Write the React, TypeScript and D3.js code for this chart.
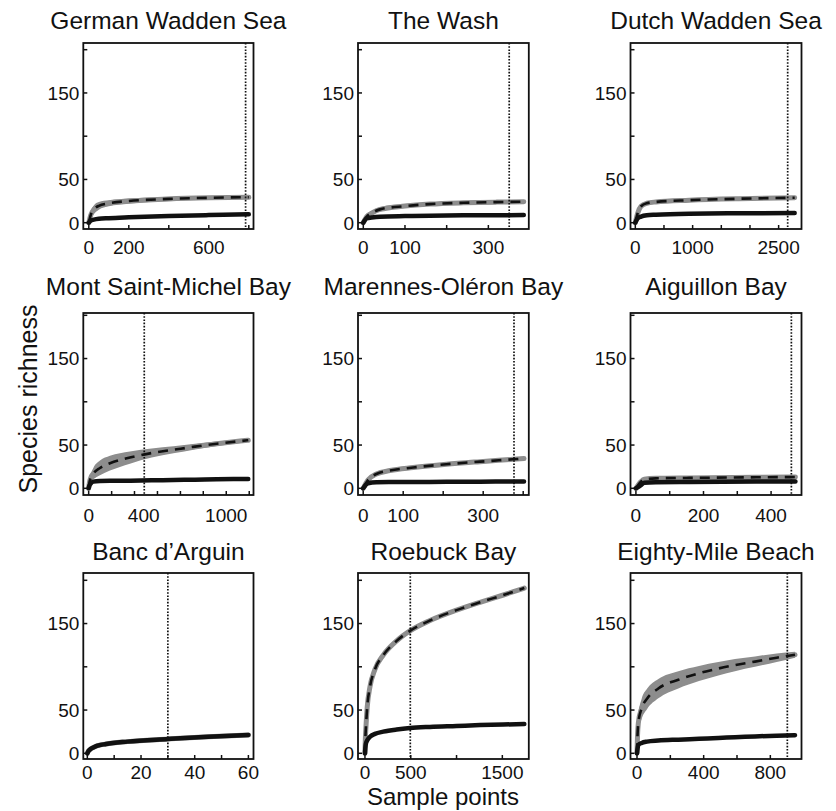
import React from 'react';
import * as d3 from 'd3';

// ---------- data ----------
const siteTitles = [
  'German Wadden Sea', 'The Wash', 'Dutch Wadden Sea',
  'Mont Saint-Michel Bay', 'Marennes-Oléron Bay', 'Aiguillon Bay',
  "Banc d’Arguin", 'Roebuck Bay', 'Eighty-Mile Beach',
];

const yTicks = [0, 50, 100, 150, 200];
const yTickLabels = [0, 50, 150];

// German Wadden Sea
const germanX = [0, 10, 25, 50, 100, 200, 400, 600, 800];
const germanEst = [0, 9, 15, 19.5, 22.5, 25, 27.5, 28.8, 29.5];
const germanLo = [0, 5, 10, 15, 19, 22, 25, 26.5, 27.5];
const germanHi = [0, 13, 20, 24, 26, 28, 30, 31, 31.5];
const germanObs = [0, 2.5, 3.5, 4.5, 5.2, 6.2, 7.8, 8.8, 9.7];
const germanDomain = [-27.5, 823.5];
const germanTicks = [0, 200, 400, 600, 800];
const germanLabels = [0, 200, 600];
const germanCutoff = 784;

// The Wash
const washX = [0, 8, 20, 40, 100, 160, 240, 320, 385];
const washEst = [0, 7, 11, 15.4, 19.2, 21.5, 23, 23.8, 24.2];
const washLo = [0, 4.5, 8.5, 13, 17, 19.5, 21, 22, 22.5];
const washHi = [0, 9.5, 13.5, 18, 21.5, 23.5, 25, 25.6, 26];
const washObs = [0, 5, 6, 7, 7.7, 8.1, 8.5, 8.7, 8.8];
const washDomain = [-12.7, 397];
const washTicks = [0, 100, 200, 300];
const washLabels = [0, 100, 300];
const washCutoff = 350;

// Dutch Wadden Sea
const dutchX = [0, 40, 100, 200, 360, 940, 1800, 2780];
const dutchEst = [0, 10.7, 19, 22.5, 24, 26, 27.7, 28.8];
const dutchLo = [0, 8, 17, 20.5, 22, 24.2, 26, 27.2];
const dutchHi = [0, 13.5, 21, 24.5, 26, 27.8, 29.4, 30.4];
const dutchObs = [0, 5, 7, 8.5, 9.2, 10.4, 10.9, 11.2];
const dutchDomain = [-84, 2899];
const dutchTicks = [0, 500, 1000, 1500, 2000, 2500];
const dutchLabels = [0, 1000, 2500];
const dutchCutoff = 2658;

// Mont Saint-Michel Bay
const montX = [0, 5, 15, 34, 82, 155, 300, 458, 616, 773, 931, 1101, 1160];
const montEst = [0, 6, 12, 17, 23.5, 29, 35.5, 40.8, 44.5, 48.2, 51.5, 54.6, 55.6];
const montLo = [0, 4, 8, 10.5, 15, 20.5, 28.5, 35.5, 40.5, 45, 49, 52.5, 53.6];
const montHi = [0, 8, 16, 23.5, 32, 37.5, 42.5, 46, 48.5, 51.4, 54, 56.7, 57.6];
const montObs = [0, 3, 5.5, 7.7, 8.5, 8.7, 8.8, 9.2, 9.6, 10, 10.4, 10.7, 10.8];
const montDomain = [-39, 1198];
const montTicks = [0, 167, 333, 500, 667, 833, 1000, 1167];
const montLabels = [0, 400, 1000];
const montCutoff = 404;

// Marennes-Oléron Bay
const marennesX = [0, 12, 33, 67, 125, 208, 292, 375, 402];
const marennesEst = [0, 9.6, 16.5, 20.5, 24, 27.8, 30.8, 33.5, 34.4];
const marennesLo = [0, 7.5, 14.5, 18.5, 22, 25.8, 29, 31.8, 32.8];
const marennesHi = [0, 11.5, 18.5, 22.5, 26, 29.8, 32.6, 35.2, 36];
const marennesObs = [0, 5.8, 7, 7.2, 7.3, 7.5, 7.7, 7.9, 8];
const marennesDomain = [-13, 414];
const marennesTicks = [0, 100, 200, 300, 400];
const marennesLabels = [0, 100, 300];
const marennesCutoff = 377;

// Aiguillon Bay
const aiguillonX = [0, 15, 25, 59, 158, 356, 472];
const aiguillonEst = [0, 7.7, 10.4, 11.5, 12, 12.7, 13];
const aiguillonLo = [0, 5, 7.5, 8.5, 9, 9.5, 9.8];
const aiguillonHi = [0, 10, 12.5, 13.5, 14, 14.8, 15.2];
const aiguillonObs = [0, 3.8, 6.5, 7, 7.3, 7.8, 8];
const aiguillonDomain = [-16, 490];
const aiguillonTicks = [0, 100, 200, 300, 400];
const aiguillonLabels = [0, 200, 400];
const aiguillonCutoff = 460;

// Banc d'Arguin
const bancX = [0, 0.5, 3.5, 7, 15, 30, 45, 60];
const bancEst = [0, 3, 8.5, 10.8, 13.5, 16.5, 19.2, 21.2];
const bancLo = [0, 1, 6, 8.5, 11.5, 15, 18, 20.2];
const bancHi = [0, 5, 11, 13, 15.5, 18, 20.4, 22.2];
const bancObs = [0, 3, 8.5, 10.8, 13.5, 16.5, 19.2, 21.2];
const bancDomain = [-1.5, 61.9];
const bancTicks = [0, 10, 20, 30, 40, 50, 60];
const bancLabels = [0, 20, 40, 60];
const bancCutoff = 30;

// Roebuck Bay
const roebuckX = [0, 4, 11, 25, 55, 109, 200, 346, 491, 710, 1000, 1256, 1511, 1740];
const roebuckEst = [0, 16, 30.8, 53.8, 77, 97, 113.5, 130, 141.5, 153.5, 165.5, 174.5, 183, 191];
const roebuckLo = [0, 13.5, 28, 51, 74.5, 94.5, 111, 127.7, 139.3, 151.5, 163.5, 172.5, 181, 189];
const roebuckHi = [0, 18.5, 33.5, 56.5, 79.5, 99.5, 116, 132.3, 143.7, 155.5, 167.5, 176.5, 185, 193];
const roebuckObs = [0, 6, 11.5, 15, 19.2, 22.5, 25, 27.5, 29.2, 30.5, 31.6, 32.6, 33.3, 33.8];
const roebuckDomain = [-76, 1789];
const roebuckTicks = [0, 500, 1000, 1500];
const roebuckLabels = [0, 500, 1500];
const roebuckCutoff = 495;

// Eighty-Mile Beach
const eightyX = [0, 3, 8, 28, 60, 128, 248, 372, 488, 588, 708, 838, 948];
const eightyEst = [0, 20, 35, 52, 63, 75, 85, 92.5, 98, 102, 106, 110.5, 114];
const eightyLo = [0, 14, 25, 40, 51, 63.5, 75, 83.5, 90, 95, 100, 105.5, 110.5];
const eightyHi = [0, 26, 45, 63, 74.5, 86, 95, 101, 105.5, 109, 112, 115.5, 117.5];
const eightyObs = [0, 5, 9.7, 12, 13.5, 14.7, 15.8, 16.8, 17.8, 18.5, 19.5, 20.4, 21];
const eightyDomain = [-39, 987];
const eightyTicks = [0, 200, 400, 600, 800];
const eightyLabels = [0, 400, 800];
const eightyCutoff = 902;

type Panel = {
  title: string; x: number[]; est: number[]; lo: number[]; hi: number[]; obs: number[];
  domain: number[]; ticks: number[]; labels: number[]; cutoff: number;
};

const panels: Panel[] = [
  { title: siteTitles[0], x: germanX, est: germanEst, lo: germanLo, hi: germanHi, obs: germanObs, domain: germanDomain, ticks: germanTicks, labels: germanLabels, cutoff: germanCutoff },
  { title: siteTitles[1], x: washX, est: washEst, lo: washLo, hi: washHi, obs: washObs, domain: washDomain, ticks: washTicks, labels: washLabels, cutoff: washCutoff },
  { title: siteTitles[2], x: dutchX, est: dutchEst, lo: dutchLo, hi: dutchHi, obs: dutchObs, domain: dutchDomain, ticks: dutchTicks, labels: dutchLabels, cutoff: dutchCutoff },
  { title: siteTitles[3], x: montX, est: montEst, lo: montLo, hi: montHi, obs: montObs, domain: montDomain, ticks: montTicks, labels: montLabels, cutoff: montCutoff },
  { title: siteTitles[4], x: marennesX, est: marennesEst, lo: marennesLo, hi: marennesHi, obs: marennesObs, domain: marennesDomain, ticks: marennesTicks, labels: marennesLabels, cutoff: marennesCutoff },
  { title: siteTitles[5], x: aiguillonX, est: aiguillonEst, lo: aiguillonLo, hi: aiguillonHi, obs: aiguillonObs, domain: aiguillonDomain, ticks: aiguillonTicks, labels: aiguillonLabels, cutoff: aiguillonCutoff },
  { title: siteTitles[6], x: bancX, est: bancEst, lo: bancLo, hi: bancHi, obs: bancObs, domain: bancDomain, ticks: bancTicks, labels: bancLabels, cutoff: bancCutoff },
  { title: siteTitles[7], x: roebuckX, est: roebuckEst, lo: roebuckLo, hi: roebuckHi, obs: roebuckObs, domain: roebuckDomain, ticks: roebuckTicks, labels: roebuckLabels, cutoff: roebuckCutoff },
  { title: siteTitles[8], x: eightyX, est: eightyEst, lo: eightyLo, hi: eightyHi, obs: eightyObs, domain: eightyDomain, ticks: eightyTicks, labels: eightyLabels, cutoff: eightyCutoff },
];

// ---------- layout ----------
const W = 836;
const H = 811;
const COL_LEFT = [83.3, 358, 630.5];
const COL_RIGHT = [253.5, 528.8, 801.5];
const ROW_TOP = [43, 313, 573];
const ROW_BOTTOM = [229, 495, 759];
const ROW_ZERO = [222.7, 488.3, 753.3];
const TITLE_BASE = [28.5, 295, 559.5];
const XLABEL_BASE = [254, 521.5, 779];
const PX_PER_UNIT = 0.865;
const FONT = '"Liberation Sans", Arial, Helvetica, sans-serif';
const GRAY = '#8d8d8d';
const INK = '#111';

function PanelView({ p, i }: { p: Panel; i: number }) {
  const col = i % 3;
  const row = Math.floor(i / 3);
  const left = COL_LEFT[col];
  const right = COL_RIGHT[col];
  const top = ROW_TOP[row];
  const bottom = ROW_BOTTOM[row];
  const zero = ROW_ZERO[row];
  const xs = d3.scaleLinear().domain(p.domain).range([left, right]);
  const ys = d3.scaleLinear().domain([0, 150]).range([zero, zero - 150 * PX_PER_UNIT]);
  const idx = p.x.map((_, k) => k);
  const area = d3.area<number>()
    .x((k) => xs(p.x[k]))
    .y0((k) => ys(p.lo[k]))
    .y1((k) => ys(p.hi[k]))
    .curve(d3.curveMonotoneX);
  const estLine = d3.line<number>().x((k) => xs(p.x[k])).y((k) => ys(p.est[k])).curve(d3.curveMonotoneX);
  const obsLine = d3.line<number>().x((k) => xs(p.x[k])).y((k) => ys(p.obs[k])).curve(d3.curveMonotoneX);
  const cx = (left + right) / 2;
  return (
    <g>
      <text x={cx} y={TITLE_BASE[row]} textAnchor="middle" fontSize={24.5} fontFamily={FONT} fill={INK}>{p.title}</text>
      <path d={area(idx) || ''} fill={GRAY} stroke="none" />
      <path d={estLine(idx) || ''} fill="none" stroke={GRAY} strokeWidth={5} strokeLinecap="round" />
      <path d={estLine(idx) || ''} fill="none" stroke={INK} strokeWidth={2.6} strokeDasharray="10,7" />
      <path d={obsLine(idx) || ''} fill="none" stroke={INK} strokeWidth={4.5} strokeLinecap="round" strokeLinejoin="round" />
      <line x1={xs(p.cutoff)} x2={xs(p.cutoff)} y1={top} y2={bottom} stroke={INK} strokeWidth={1.7} strokeDasharray="1.6,1.6" />
      <rect x={left} y={top} width={right - left} height={bottom - top} fill="none" stroke={INK} strokeWidth={1.8} />
      {yTicks.map((t) => (
        <line key={'yt' + t} x1={left} x2={left + 4} y1={ys(t)} y2={ys(t)} stroke={INK} strokeWidth={1.5} />
      ))}
      {yTickLabels.map((t) => (
        <text key={'yl' + t} x={left - 4} y={ys(t)} dy="0.36em" textAnchor="end" fontSize={19} fontFamily={FONT} fill={INK}>{t}</text>
      ))}
      {p.ticks.map((t) => (
        <line key={'xt' + t} x1={xs(t)} x2={xs(t)} y1={bottom} y2={bottom - 4} stroke={INK} strokeWidth={1.5} />
      ))}
      {p.labels.map((t) => (
        <text key={'xl' + t} x={xs(t)} y={XLABEL_BASE[row]} textAnchor="middle" fontSize={19} fontFamily={FONT} fill={INK}>{t}</text>
      ))}
    </g>
  );
}

export default function App() {
  return (
    <div style={{ position: 'absolute', left: 0, top: 0 }}>
      <svg width={W} height={H} viewBox={`0 0 ${W} ${H}`} style={{ display: 'block', background: '#fff' }}>
        <rect x={0} y={0} width={W} height={H} fill="#fff" />
        {panels.map((p, i) => <PanelView key={p.title} p={p} i={i} />)}
        <text transform="translate(37,399) rotate(-90)" textAnchor="middle" fontSize={25} fontFamily={FONT} fill={INK}>Species richness</text>
        <text x={443} y={805} textAnchor="middle" fontSize={24} fontFamily={FONT} fill={INK}>Sample points</text>
      </svg>
    </div>
  );
}
